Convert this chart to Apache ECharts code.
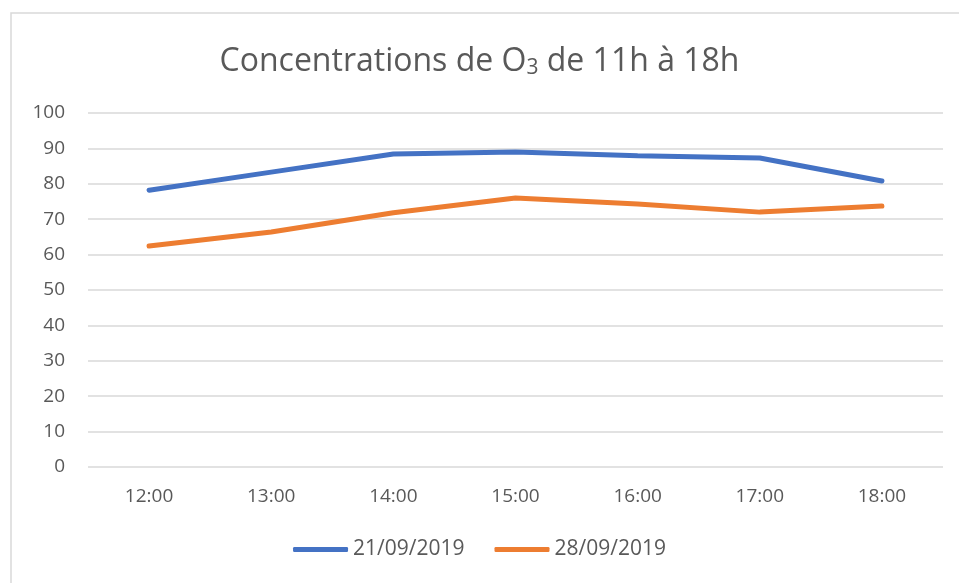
<!DOCTYPE html>
<html>
	<head>
		<meta charset="utf-8">
		<title></title>
		<script src="https://cdn.jsdelivr.net/npm/echarts@6/dist/echarts.min.js"></script>
		<style>
			body{ margin:0; background:#fff; }
			#chart{ width:959px; height:583px; }
		</style>
	</head>
	<body>
		<div id="chart"></div>
		<script>
			const hours = ['12:00', '13:00', '14:00', '15:00', '16:00', '17:00', '18:00'];
			const o3_21sep = [78.2, 83.3, 88.4, 89.0, 87.9, 87.3, 80.8];
			const o3_28sep = [62.4, 66.4, 71.8, 76.0, 74.3, 72.0, 73.7];
			const seriesNames = ['21/09/2019', '28/09/2019'];

			const chart = echarts.init(document.getElementById('chart'), null, {renderer:'canvas'});
			const textColor = '#595959';
			const font = '"Open Sans", "Liberation Sans", sans-serif';

			option = {
				animation:false,
				color:['#4472C4', '#ED7D31'],
				graphic:[{
					type:'rect',
					shape:{x:11, y:13, width:980, height:620},
					style:{fill:'none', stroke:'#d9d9d9', lineWidth:1.5},
					silent:true
				}],
				title:{
					text:'Concentrations de O{sub|3} de 11h à 18h',
					left:'center',
					top:39,
					textStyle:{
						fontFamily:font,
						fontSize:32,
						fontWeight:'normal',
						color:textColor,
						rich:{
							sub:{fontFamily:font, fontSize:21, color:textColor, verticalAlign:'bottom', padding:[14,0,0,0]}
						}
					}
				},
				grid:{left:88, right:16, top:113, bottom:116},
				xAxis:{
					type:'category',
					data:hours,
					boundaryGap:true,
					axisLine:{show:false},
					axisTick:{show:false},
					axisLabel:{color:textColor, fontFamily:font, fontSize:19, margin:20}
				},
				yAxis:{
					type:'value',
					min:0,
					max:100,
					interval:10,
					axisLine:{show:false},
					axisTick:{show:false},
					axisLabel:{color:textColor, fontFamily:font, fontSize:19, margin:23},
					splitLine:{lineStyle:{color:'#d9d9d9', width:1.5}}
				},
				legend:{
					bottom:18,
					left:'center',
					itemWidth:55,
					itemHeight:5,
					itemGap:30,
					icon:'roundRect',
					textStyle:{color:textColor, fontFamily:font, fontSize:21},
					data:seriesNames
				},
				series:[
					{
						name:seriesNames[0],
						type:'line',
						data:o3_21sep,
						symbol:'none',
						lineStyle:{width:5, cap:'round'}
					},
					{
						name:seriesNames[1],
						type:'line',
						data:o3_28sep,
						symbol:'none',
						lineStyle:{width:5, cap:'round'}
					}
				]
			};
			chart.setOption(option);
		</script>
	</body>
</html>
